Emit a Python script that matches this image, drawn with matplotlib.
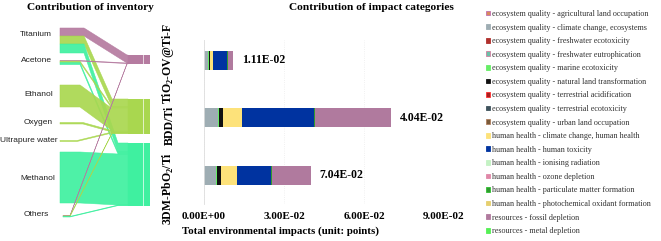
import matplotlib
matplotlib.use("Agg")
import matplotlib.pyplot as plt
import matplotlib.transforms as mtrans
from matplotlib.patches import Patch

plt.rcParams['mathtext.fontset'] = 'custom'
plt.rcParams['mathtext.rm'] = 'Liberation Serif:bold'
plt.rcParams['mathtext.bf'] = 'Liberation Serif:bold'

# ---- inventory (sankey) data ----
inv_sources = ['Titanium', 'Acetone', 'Ethanol', 'Oxygen', 'Ultrapure water', 'Methanol', 'Others']
inv_to_tio2 = [8, 0.6, 0, 0, 0, 0, 0.4]
inv_to_bdd = [8, 1.5, 22, 1.5, 1, 0, 0.5]
inv_to_3dm = [9, 2, 0, 0, 0, 51, 0.6]
inv_colors = ['#b57ba0', '#a9d74f', '#3ff0a0']

# ---- impact data ----
samples = ['3DM-PbO$_2$/Ti', 'BDD/Ti', 'TiO$_2$-OV@Ti-F']
total_labels = ['7.04E-02', '4.04E-02', '1.11E-02']
impact_names = [
    'ecosystem quality - agricultural land occupation',
    'ecosystem quality - climate change, ecosystems',
    'ecosystem quality - freshwater ecotoxicity',
    'ecosystem quality - freshwater eutrophication',
    'ecosystem quality - marine ecotoxicity',
    'ecosystem quality - natural land transformation',
    'ecosystem quality - terrestrial acidification',
    'ecosystem quality - terrestrial ecotoxicity',
    'ecosystem quality - urban land occupation',
    'human health - climate change, human health',
    'human health - human toxicity',
    'human health - ionising radiation',
    'human health - ozone depletion',
    'human health - particulate matter formation',
    'human health - photochemical oxidant formation',
    'resources - fossil depletion',
    'resources - metal depletion',
]
impact_colors = ['#d98a5c', '#9eadb3', '#b0302c', '#6cc0a8', '#66ee66', '#111111',
                 '#a82020', '#3e525c', '#7a5a3a', '#fde27a', '#0033a0', '#c4f2c4',
                 '#e088a8', '#2f9a2f', '#e6cf6e', '#b07a9e', '#55f055']
impact_edges = ['#c070b0', '#9eadb3', '#b0302c', '#d080a0', '#66ee66', '#111111',
                '#ff3030', '#3e525c', '#b08060', '#fde27a', '#0033a0', '#c4f2c4',
                '#e088a8', '#30c030', '#e6cf6e', '#b07a9e', '#55f055']
vals_3dm = [0, 0.0045, 0, 0, 0.0003, 0.0015, 0, 0, 0, 0.0059, 0.0128, 0, 0, 0.0005, 0, 0.0146, 0.0002]
vals_bdd = [0, 0.0052, 0, 0, 0.0003, 0.0017, 0, 0, 0, 0.0069, 0.0270, 0, 0, 0.0006, 0, 0.0283, 0.0003]
vals_tio2 = [0, 0.0016, 0, 0, 0.0001, 0.0004, 0, 0, 0, 0.0013, 0.0053, 0, 0, 0.0002, 0, 0.0020, 0.0001]

fig = plt.figure(figsize=(6.61, 2.41), dpi=100)

# overlay in pixel units for the sankey part
ov = fig.add_axes([0, 0, 1, 1])
ov.set_xlim(0, 661)
ov.set_ylim(241, 0)
ov.axis('off')

src_top = [28, 60.5, 85, 122.5, 140.5, 152, 215.5]
lab_y = [34, 61, 94, 123, 141, 178, 214]
lab_x = [36, 36, 39, 38, 29, 38, 36]
src_x0 = [60, 60, 60, 60, 60, 60, 63]
src_xa = [84, 80, 80, 83, 77, 80, 70]
tgt_top = [55, 99, 143]
tgt_xb = [127, 112, 118]
x1, x2 = 128, 150

flows = [inv_to_tio2, inv_to_bdd, inv_to_3dm]
tgt_cursor = list(tgt_top)
for i, name in enumerate(inv_sources):
    s = src_top[i]
    for t in range(3):
        v = flows[t][i]
        if v == 0:
            continue
        t0 = tgt_cursor[t]
        xs = [src_x0[i], src_xa[i], tgt_xb[t], x1, x1, tgt_xb[t], src_xa[i], src_x0[i]]
        ys = [s, s, t0, t0, t0 + v, t0 + v, s + v, s + v]
        ov.fill(xs, ys, color=inv_colors[t], alpha=0.92, lw=0.4, ec=inv_colors[t])
        s += v
        tgt_cursor[t] += v
    ov.text(lab_x[i], lab_y[i], name, ha='center', va='center', fontsize=6,
            family='Liberation Sans', color='#222222')

for t in range(3):
    h = tgt_cursor[t] - tgt_top[t]
    ov.fill([x1, x2, x2, x1], [tgt_top[t], tgt_top[t], tgt_top[t] + h, tgt_top[t] + h],
            color=inv_colors[t], lw=0)
    ov.plot([143, 143], [tgt_top[t], tgt_top[t] + h], color='white', lw=0.6, alpha=0.8)

fig.text(90 / 661, 1 - 7 / 241, 'Contribution of inventory', ha='center', va='center',
         fontsize=8.2, family='Liberation Serif', weight='bold')
fig.text(371 / 661, 1 - 7 / 241, 'Contribution of impact categories', ha='center', va='center',
         fontsize=8.2, family='Liberation Serif', weight='bold')

# ---- bar chart ----
ax = fig.add_axes([204 / 661, 37 / 241, 240 / 661, 164 / 241])
ypos = [0, 1, 2]
all_vals = [vals_3dm, vals_bdd, vals_tio2]
left = [0.0, 0.0, 0.0]
for k in range(len(impact_names)):
    w = [all_vals[j][k] for j in range(3)]
    ax.barh(ypos, w, left=left, height=0.33, color=impact_colors[k], lw=0)
    left = [left[j] + w[j] for j in range(3)]
for j in range(3):
    ax.annotate(total_labels[j], (left[j], ypos[j]), xytext=(6, 0), textcoords='offset points',
                ha='left', va='center', fontsize=8.5, family='Liberation Serif', weight='bold')

ax.set_xlim(0, 0.09)
ax.set_ylim(-0.5, 2.35)
ax.set_xticks([0, 0.03, 0.06, 0.09])
ax.set_xticklabels(['0.00E+00', '3.00E-02', '6.00E-02', '9.00E-02'])
ax.set_yticks(ypos)
ax.set_yticklabels(samples, rotation=90, va='center')
ax.tick_params(length=0, labelsize=8)
ax.tick_params(axis='x', pad=6)
ax.tick_params(axis='y', pad=20)
for lab in ax.get_xticklabels() + ax.get_yticklabels():
    lab.set_family('Liberation Serif')
    lab.set_weight('bold')
lab_shift = [13, 8, 3]
for lab, dy in zip(ax.get_yticklabels(), lab_shift):
    lab.set_fontsize(8.5)
    lab.set_transform(lab.get_transform() + mtrans.ScaledTranslation(0, -dy / 100, fig.dpi_scale_trans))
ax.grid(axis='x', color='#ececec', lw=0.6, ls=':')
ax.set_axisbelow(True)
for sp in ['top', 'right', 'bottom']:
    ax.spines[sp].set_visible(False)
ax.spines['left'].set_color('#dddddd')
ax.spines['left'].set_linewidth(0.6)
fig.text(280 / 661, 1 - 231 / 241, 'Total environmental impacts (unit: points)', ha='center',
         va='center', fontsize=7.8, family='Liberation Serif', weight='bold')

# ---- legend ----
handles = [Patch(facecolor=c, edgecolor=e, lw=0.6) for c, e in zip(impact_colors, impact_edges)]
fig.legend(handles, impact_names, loc='upper left', bbox_to_anchor=(486 / 661, 1 - 10 / 241),
           frameon=False, handlelength=0.5, handleheight=0.5, handletextpad=0.25,
           labelspacing=0.68, borderaxespad=0, borderpad=0,
           prop={'family': 'Liberation Serif', 'size': 5.9}, labelcolor='#333333')

fig.savefig('out.png', dpi=100)
